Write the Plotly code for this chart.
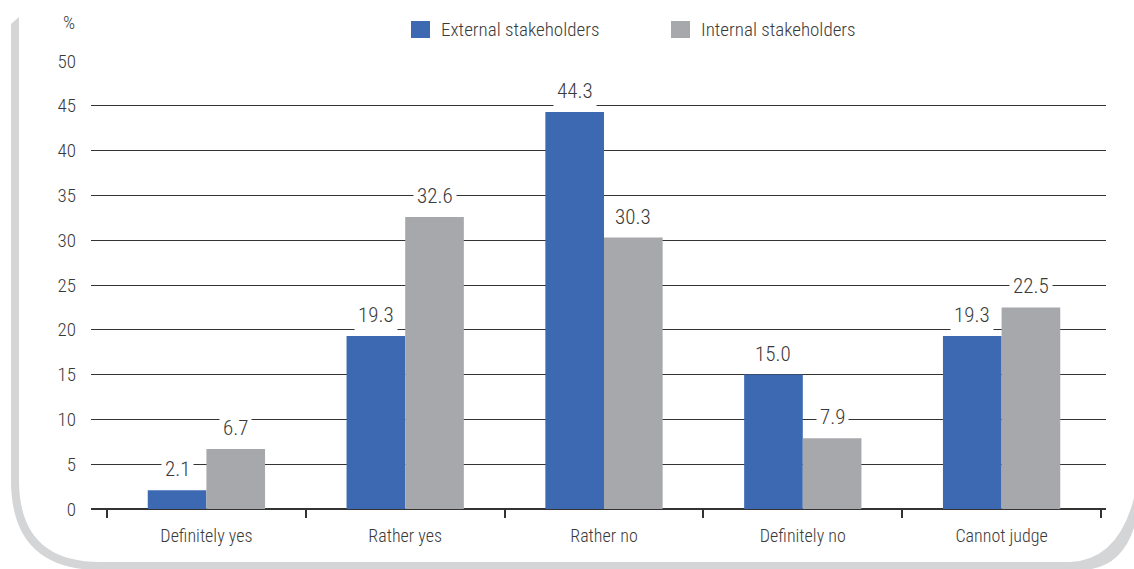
import plotly.graph_objects as go

categories = ["Definitely yes", "Rather yes", "Rather no", "Definitely no", "Cannot judge"]
external = [2.1, 19.3, 44.3, 15.0, 19.3]
internal = [6.7, 32.6, 30.3, 7.9, 22.5]
series_names = ["External stakeholders", "Internal stakeholders"]
y_ticks = [0, 5, 10, 15, 20, 25, 30, 35, 40, 45, 50]

BLUE = "#3c69b2"
GREY = "#a7a8ab"
TXT = "#3a3a3a"
FONT = "Roboto Condensed, Roboto, sans-serif"
WT = 300

W, H = 1134, 569
L, R, T, B = 91, 28, 61, 60
PW, PH = W - L - R, H - T - B


def px(x):
    return (x - L) / PW


def py(y):
    return (H - B - y) / PH


def f(size):
    return dict(family=FONT, size=size, color=TXT, weight=WT)


x_idx = list(range(len(categories)))

fig = go.Figure()
fig.add_trace(go.Bar(x=x_idx, y=external, name=series_names[0], marker_color=BLUE,
                     marker_line_width=0, showlegend=False))
fig.add_trace(go.Bar(x=x_idx, y=internal, name=series_names[1], marker_color=GREY,
                     marker_line_width=0, showlegend=False))

# value labels
group_w = 0.59
annotations = []
for i, (e, n) in enumerate(zip(external, internal)):
    for val, off in ((e, -group_w / 4), (n, group_w / 4)):
        annotations.append(dict(x=i + off, y=val, xref="x", yref="y", text=f"{val:.1f}",
                                showarrow=False, yanchor="bottom", yshift=5,
                                font=f(21), bgcolor="white", borderpad=3))

annotations.append(dict(x=px(69), y=py(22), xref="paper", yref="paper", text="%",
                        showarrow=False, xanchor="center", yanchor="middle", font=f(19)))

# manual legend
shapes = []
legend_items = [(411, BLUE, series_names[0]), (671, GREY, series_names[1])]
for x0, col, name in legend_items:
    shapes.append(dict(type="rect", xref="paper", yref="paper",
                       x0=px(x0), x1=px(x0 + 19), y0=py(38), y1=py(21),
                       fillcolor=col, line_width=0))
    annotations.append(dict(x=px(x0 + 28), y=py(30), xref="paper", yref="paper", text=name,
                            showarrow=False, xanchor="left", yanchor="middle", font=f(19)))

# frame (page-curl border)
pts = [
    ("M", 19, 17), ("L", 19, 480), ("Q", 19, 562, 100, 562), ("L", 1070, 562),
    ("Q", 1118, 560, 1134, 498), ("L", 1134, 528), ("Q", 1120, 570, 1080, 570),
    ("L", 100, 570), ("Q", 11, 570, 11, 480), ("L", 11, 24), ("Z",)
]
path = ""
for p in pts:
    cmd = p[0]
    coords = p[1:]
    s = cmd
    for j in range(0, len(coords), 2):
        s += f" {px(coords[j]):.5f},{py(coords[j+1]):.5f}"
    path += s + " "
shapes.append(dict(type="path", xref="paper", yref="paper", path=path.strip(),
                   fillcolor="#d4d5d7", line_width=0, layer="below"))

x_lo = -0.5 - (107 - 91) / 198.8
x_hi = 4.5 + (1106 - 1101) / 198.8

fig.update_layout(
    width=W, height=H,
    margin=dict(l=L, r=R, t=T, b=B, pad=0),
    paper_bgcolor="white", plot_bgcolor="white",
    barmode="group", bargap=0.41, bargroupgap=0,
    font=dict(family=FONT, color=TXT, weight=WT),
    annotations=annotations, shapes=shapes,
    xaxis=dict(range=[x_lo, x_hi], tickmode="array", tickvals=x_idx, ticktext=categories,
               ticks="", showgrid=False, zeroline=False, showline=False,
               tickfont=f(18), ticklabelstandoff=14,
               minor=dict(tickmode="linear", tick0=0.5, dtick=1, ticks="outside",
                          ticklen=8, tickwidth=2, tickcolor="#333333", showgrid=False)),
    yaxis=dict(range=[0, 50], tickmode="array", tickvals=y_ticks, showgrid=True,
               gridcolor="#333333", gridwidth=1.4, zeroline=True, zerolinecolor="#333333",
               zerolinewidth=1.5, showline=False, ticks="",
               tickfont=f(19), ticklabelstandoff=14),
)

fig.write_html("out.html", config={"displayModeBar": False},
               post_script="document.body.style.margin='0';")
